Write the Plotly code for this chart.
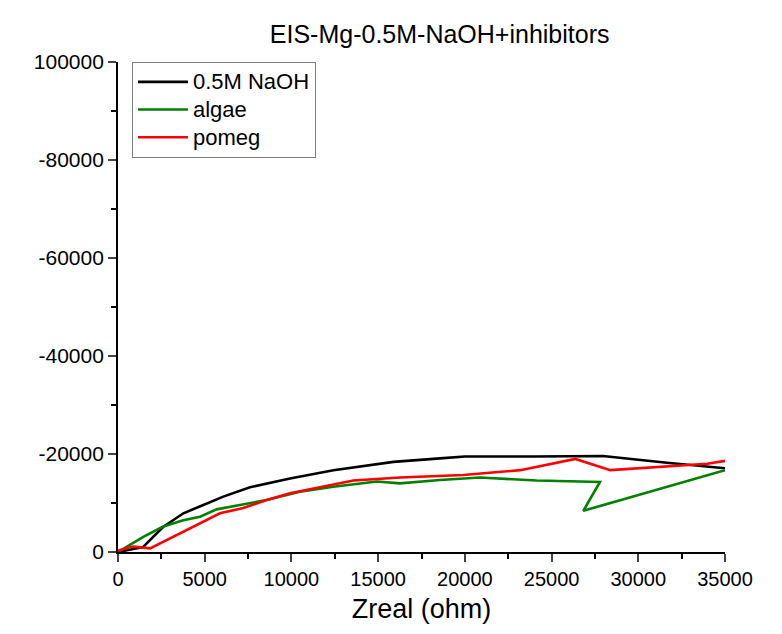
import plotly.graph_objects as go

# Data (Zreal, -Zimag)
naoh_x = [0, 1440, 2600, 3770, 4920, 6070, 7610, 9920, 12420, 15880, 18570, 20000, 24000, 27960, 31650, 35000]
naoh_y = [0, 1000, 5100, 7900, 9600, 11300, 13200, 15000, 16700, 18400, 19100, 19500, 19500, 19600, 18200, 17100]

algae_x = [0, 1460, 2610, 3770, 4730, 5690, 7030, 8570, 10490, 12420, 14920, 16260, 18570, 20870, 24140, 27790, 26830, 35000]
algae_y = [0, 3100, 5200, 6500, 7200, 8700, 9600, 10600, 12300, 13300, 14400, 14000, 14700, 15200, 14600, 14300, 8400, 16700]

pomeg_x = [0, 880, 1850, 2800, 3960, 4920, 5880, 7230, 8570, 9920, 11650, 13570, 16260, 18570, 19910, 23190, 26370, 28390, 33970, 35000]
pomeg_y = [300, 1100, 750, 2400, 4500, 6200, 7900, 9000, 10600, 12000, 13200, 14600, 15200, 15600, 15700, 16700, 19000, 16700, 18000, 18600]

series_names = ["0.5M NaOH", "algae", "pomeg"]
series_colors = ["#000000", "#008000", "#ff0000"]

x_ticks = [0, 5000, 10000, 15000, 20000, 25000, 30000, 35000]
x_tick_text = ["0", "5000", "10000", "15000", "20000", "25000", "30000", "35000"]
y_ticks = [0, 20000, 40000, 60000, 80000, 100000]
y_tick_text = ["0", "-20000", "-40000", "-60000", "-80000", "100000"]

FONT = "Arial, Liberation Sans, sans-serif"

fig = go.Figure()
for name, xs, ys, col in zip(series_names, [naoh_x, algae_x, pomeg_x], [naoh_y, algae_y, pomeg_y], series_colors):
    fig.add_trace(go.Scatter(x=xs, y=ys, mode="lines",
                             name='<span style="font-size:22px">' + name + '</span>',
                             line=dict(color=col, width=2.6)))

fig.update_layout(
    width=782, height=634,
    margin=dict(l=110, r=65, t=54, b=90),
    paper_bgcolor="white", plot_bgcolor="white",
    font=dict(family=FONT, color="black"),
    title=dict(text="EIS-Mg-0.5M-NaOH+inhibitors", x=0.552, xref="container", xanchor="center",
               y=0.958, yref="container", yanchor="middle",
               font=dict(size=25, family=FONT, color="black")),
    showlegend=True,
    legend=dict(x=0.023, y=1.0, xanchor="left", yanchor="top",
                bordercolor="#808080", borderwidth=1, bgcolor="white",
                font=dict(size=19, family=FONT, color="black"),
                tracegroupgap=0, itemwidth=50),
)

fig.update_xaxes(range=[0, 35000], tickvals=x_ticks, ticktext=x_tick_text, ticks="outside", ticklen=8, tickwidth=1.5,
                 showline=True, linecolor="black", linewidth=1.8, showgrid=False, zeroline=False,
                 tickfont=dict(size=20, family=FONT, color="black"),
                 minor=dict(ticks="outside", ticklen=5, dtick=2500, tickcolor="black", showgrid=False),
                 title=dict(text="Zreal (ohm)", font=dict(size=27, family=FONT, color="black"), standoff=10))
fig.update_yaxes(range=[0, 100000], tickvals=y_ticks, ticktext=y_tick_text, ticks="outside", ticklen=8, tickwidth=1.5,
                 showline=True, linecolor="black", linewidth=1.8, showgrid=False, zeroline=False,
                 tickfont=dict(size=21, family=FONT, color="black"),
                 minor=dict(ticks="outside", ticklen=5, dtick=10000, tickcolor="black", showgrid=False))

fig.write_html("out.html")
